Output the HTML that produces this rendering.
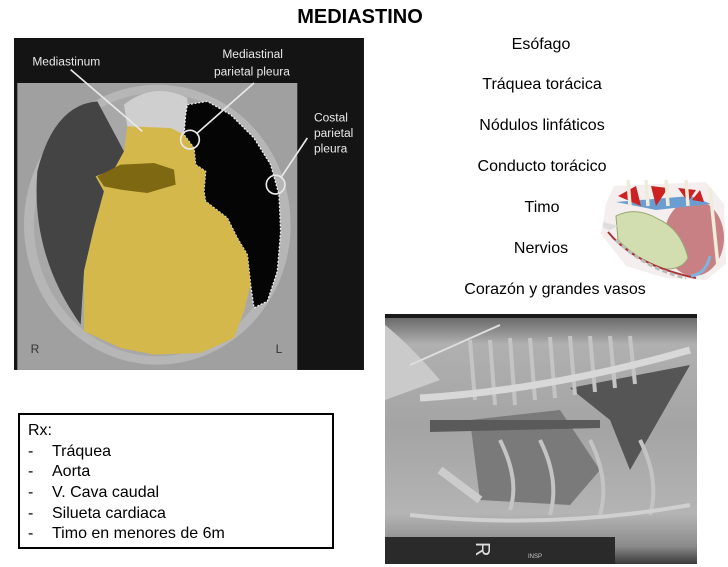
<!DOCTYPE html>
<html><head><meta charset="utf-8"><style>
html,body{margin:0;padding:0;background:#fff;}
body{width:728px;height:567px;position:relative;overflow:hidden;font-family:"Liberation Sans",sans-serif;}
.t{position:absolute;font-size:16px;color:#000;white-space:nowrap;transform:translateX(-50%);line-height:18px;}
#box{position:absolute;left:18px;top:413px;width:312px;height:132px;border:2px solid #000;}
#box div{position:absolute;font-size:16px;line-height:18px;white-space:nowrap;}
</style></head><body>
<div class="t" style="left:360px;top:6px;font-size:20px;font-weight:bold;line-height:22px;">MEDIASTINO</div>
<div class="t" style="left:541px;top:36px;">Esófago</div>
<div class="t" style="left:542px;top:76px;">Tráquea torácica</div>
<div class="t" style="left:542px;top:117px;">Nódulos linfáticos</div>
<div class="t" style="left:542px;top:158px;">Conducto torácico</div>
<div class="t" style="left:542px;top:199px;">Timo</div>
<div class="t" style="left:541px;top:240px;">Nervios</div>
<div class="t" style="left:555px;top:281px;">Corazón y grandes vasos</div>

<svg style="position:absolute;left:0;top:0" width="728" height="567">
<g transform="translate(14,38) scale(0.3333)">
<rect x="0" y="0" width="1050" height="996" fill="#141414"/>
<rect x="10" y="135" width="840" height="861" fill="#a0a0a0"/>
<ellipse cx="430" cy="560" rx="400" ry="420" fill="#b6b6b6"/>
<ellipse cx="430" cy="560" rx="370" ry="395" fill="#a8a8a8"/>
<path d="M330,200 Q420,130 520,180 L520,290 L340,265 Z" fill="#cfcfcf"/>
<path d="M250,190 Q120,200 70,400 Q50,650 200,860 L210,700 L240,570 L270,460 L245,415 L300,395 L330,340 Z" fill="#444"/>
<path d="M520,200 L580,190 L650,230 L720,300 L770,380 L795,470 L800,580 L790,700 L760,790 L720,810 L710,740 L700,650 L670,600 L640,540 L575,490 L570,460 L575,400 L545,380 L540,330 L510,290 L515,230 Z" fill="#050505" stroke="#eee" stroke-width="4" stroke-dasharray="6,5"/>
<path d="M340,265 L470,270 L510,290 L540,330 L545,380 L575,400 L570,460 L575,490 L640,540 L670,600 L700,650 L710,740 L690,820 L660,900 L560,945 L420,950 L320,930 L210,880 L210,700 L240,570 L270,460 L245,415 L300,395 L330,340 Z" fill="#d4b84c"/>
<path d="M250,415 L320,380 L420,375 L480,395 L485,440 L400,465 L320,455 L270,445 Z" fill="#7e6812"/>
<g stroke="#e8e8e8" stroke-width="5" fill="none">
<line x1="170" y1="95" x2="385" y2="280"/>
<line x1="720" y1="135" x2="550" y2="285"/>
<circle cx="528" cy="305" r="28"/>
<line x1="880" y1="300" x2="800" y2="420"/>
<circle cx="785" cy="440" r="28"/>
</g>
<g fill="#e8e8e8" font-family="Liberation Sans,sans-serif" font-size="36">
<text x="55" y="82">Mediastinum</text>
<text x="625" y="60">Mediastinal</text>
<text x="600" y="112">parietal pleura</text>
<text x="900" y="250">Costal</text>
<text x="900" y="297">parietal</text>
<text x="900" y="344">pleura</text>
<text x="50" y="945" fill="#333">R</text>
<text x="785" y="945" fill="#333">L</text>
</g>
</g>

<!-- heart illustration -->
<g transform="translate(596,174)">
<path d="M18,12 L110,8 L128,30 L130,90 L110,106 L70,104 L30,92 L5,60 L10,30 Z" fill="#f4eeee"/>
<ellipse cx="98" cy="64" rx="30" ry="38" fill="#c98085"/>
<path d="M20,42 Q40,32 62,45 Q85,55 92,84 Q85,98 62,94 Q40,84 22,66 Z" fill="#d2ddb0" stroke="#9aa870" stroke-width="1"/>
<path d="M8,48 Q4,54 14,56 L22,52 Z" fill="#ddd"/>
<path d="M20,28 L95,22 L115,30 L60,36 Z" fill="#6b9ed0"/>
<path d="M22,22 L40,12 L45,32 Z M55,12 L60,32 L72,14 Z M82,14 L92,28 L100,16 Z M96,26 L104,16 L108,28 Z" fill="#cc2222"/>
<g stroke="#f0ecdc" stroke-width="3.5"><line x1="32" y1="6" x2="34" y2="32"/><line x1="50" y1="6" x2="52" y2="32"/><line x1="70" y1="6" x2="72" y2="32"/><line x1="90" y1="6" x2="92" y2="32"/><line x1="114" y1="14" x2="122" y2="92"/></g>
<path d="M12,58 Q40,92 100,104" stroke="#aa3333" stroke-width="2" fill="none"/>
<path d="M20,66 Q50,95 90,104" stroke="#bbb" stroke-width="3" stroke-dasharray="5,3" fill="none"/>
<path d="M114,82 Q110,100 95,102" stroke="#7fb4dd" stroke-width="3" fill="none"/>
</g>

<!-- x-ray -->
<defs>
<linearGradient id="xg" x1="0" y1="0" x2="0" y2="1">
<stop offset="0" stop-color="#606060"/><stop offset="0.12" stop-color="#b0b0b0"/><stop offset="0.45" stop-color="#a4a4a4"/><stop offset="0.8" stop-color="#b4b4b4"/><stop offset="0.93" stop-color="#8a8a8a"/><stop offset="1" stop-color="#3a3a3a"/>
</linearGradient>
</defs>
<rect x="385" y="314" width="312" height="250" fill="url(#xg)"/>
<rect x="385" y="314" width="312" height="4" fill="#1a1a1a"/>
<path d="M385,325 Q410,345 440,380 L385,400 Z" fill="#cacaca"/>
<path d="M570,388 L690,365 L630,470 L610,420 Z" fill="#555"/>
<path d="M470,420 L560,410 L600,470 L570,505 L480,500 Z" fill="#7a7a7a"/>
<path d="M430,420 L600,420 L600,428 L430,432 Z" fill="#5a5a5a"/>
<g stroke="#c4c4c4" stroke-width="4" fill="none">
<path d="M470,340 L475,400"/><path d="M490,340 L495,405"/><path d="M510,338 L515,405"/><path d="M530,338 L535,400"/><path d="M550,337 L555,398"/><path d="M570,336 L575,395"/><path d="M590,336 L595,392"/><path d="M610,336 L615,388"/><path d="M630,336 L635,384"/>
<path d="M500,440 Q520,480 510,510"/><path d="M540,440 Q560,480 550,515"/><path d="M590,440 Q610,480 600,515"/><path d="M640,440 Q660,480 650,515"/>
</g>
<path d="M420,398 Q550,390 690,350" stroke="#d8d8d8" stroke-width="7" fill="none"/>
<path d="M410,365 L500,325" stroke="#ddd" stroke-width="2" fill="none"/>
<path d="M440,470 L480,500" stroke="#ccc" stroke-width="8" fill="none"/>
<path d="M410,515 Q550,530 690,505" stroke="#d0d0d0" stroke-width="4" fill="none"/>
<rect x="385" y="537" width="230" height="27" fill="#2a2a2a"/>
<text x="472" y="558" fill="#ddd" font-family="Liberation Sans,sans-serif" font-size="20" transform="rotate(90 482 552)">R</text>
<text x="528" y="558" fill="#ccc" font-family="Liberation Sans,sans-serif" font-size="6">INSP</text>
</svg>

<div id="box">
<div style="left:8px;top:7px;">Rx:</div>
<div style="left:8px;top:28px;">-</div><div style="left:32px;top:28px;">Tráquea</div>
<div style="left:8px;top:48px;">-</div><div style="left:32px;top:48px;">Aorta</div>
<div style="left:8px;top:69px;">-</div><div style="left:32px;top:69px;">V. Cava caudal</div>
<div style="left:8px;top:90px;">-</div><div style="left:32px;top:90px;">Silueta cardiaca</div>
<div style="left:8px;top:110px;">-</div><div style="left:32px;top:110px;">Timo en menores de 6m</div>
</div>
</body></html>
